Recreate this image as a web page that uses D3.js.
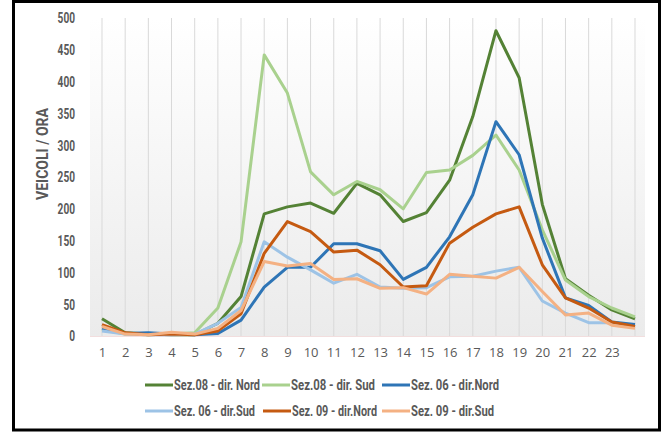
<!DOCTYPE html>
<html><head><meta charset="utf-8">
<script src="https://cdn.jsdelivr.net/npm/d3@7"></script>
<style>
body{margin:0;background:#fff;}
svg{display:block;}
</style></head>
<body>
<svg id="chart" width="662" height="432"></svg>
<script>
const categories = d3.range(1, 25);
const tickLabels = ["1","2","3","4","5","6","7","8","9","10","11","12","13","14","15","16","17","18","19","20","21","22","23",""];
const yTicks = [0,50,100,150,200,250,300,350,400,450,500];
const seriesNames = ["Sez.08 - dir. Nord","Sez.08 - dir. Sud","Sez. 06 - dir.Nord","Sez. 06 - dir.Sud","Sez. 09 - dir.Nord","Sez. 09 - dir.Sud"];
const seriesColors = ["#548235","#A9D18E","#2E75B6","#9DC3E6","#C55A11","#F4B183"];
const sez08Nord = [27,5,3,2,2,20,62,192,203,209,193,240,222,180,194,245,345,480,406,207,90,64,41,27];
const sez08Sud  = [10,3,2,3,5,44,148,442,382,258,222,243,230,200,257,261,284,316,261,167,88,62,44,30];
const sez06Nord = [12,4,5,3,2,4,25,77,108,108,145,145,134,89,108,156,222,337,285,154,60,48,22,18];
const sez06Sud  = [8,3,2,2,3,20,45,148,124,104,83,97,77,75,76,93,94,102,108,55,36,21,21,14];
const sez09Nord = [18,5,2,3,2,8,35,130,180,164,132,135,112,77,79,146,171,192,203,112,60,44,22,15];
const sez09Sud  = [15,3,2,6,3,12,40,117,110,114,89,90,75,76,66,97,94,91,108,70,33,36,17,12];
const seriesValues = [sez08Nord, sez08Sud, sez06Nord, sez06Sud, sez09Nord, sez09Sud];

const condFont = "Roboto, 'DejaVu Sans', sans-serif";
const svg = d3.select("#chart");
// outer frame
svg.append("rect").attr("x",13.5).attr("y",1.5).attr("width",646).attr("height",428.5)
  .attr("fill","#fff").attr("stroke","#000").attr("stroke-width",3);

const plot = {left:90, right:645, top:18, bottom:336};
const x = d3.scalePoint().domain(categories).range([102, 635]);
const y = d3.scaleLinear().domain([0,500]).range([plot.bottom, plot.top]);

const defs = svg.append("defs");
const grad = defs.append("linearGradient").attr("id","bg").attr("x1",0).attr("y1",0).attr("x2",0).attr("y2",1);
grad.append("stop").attr("offset","0%").attr("stop-color","#ffffff");
grad.append("stop").attr("offset","100%").attr("stop-color","#ebebeb");
svg.append("rect").attr("x",plot.left).attr("y",plot.top).attr("width",plot.right-plot.left).attr("height",plot.bottom-plot.top)
  .attr("fill","url(#bg)");

// vertical gridlines
svg.append("g").selectAll("line").data(categories).join("line")
  .attr("x1",d=>x(d)).attr("x2",d=>x(d)).attr("y1",plot.top).attr("y2",plot.bottom)
  .attr("stroke","#d9d9d9").attr("stroke-width",1);
svg.append("line").attr("x1",plot.left).attr("x2",plot.right).attr("y1",plot.bottom+0.5).attr("y2",plot.bottom+0.5)
  .attr("stroke","#f2dede").attr("stroke-width",1);

// y axis
const yAxis = svg.append("g").attr("transform",`translate(75,0)`)
  .call(d3.axisLeft(y).tickValues(yTicks).tickSize(0).tickPadding(0));
yAxis.select(".domain").remove();
yAxis.selectAll("text").attr("fill","#595959")
  .style("font-family",condFont)
  .style("font-size","15px").style("font-weight","bold")
  .attr("textLength",d=>String(d).length*5.8).attr("lengthAdjust","spacingAndGlyphs");

// x axis
const xAxis = svg.append("g").attr("transform",`translate(0,${plot.bottom})`)
  .call(d3.axisBottom(x).tickFormat((d,i)=>tickLabels[i]).tickSize(0).tickPadding(12));
xAxis.select(".domain").remove();
xAxis.selectAll("text").attr("fill","#595959")
  .style("font-family","'Open Sans',sans-serif").style("font-size","13px");

// y title
svg.append("text").attr("transform","translate(48,154) rotate(-90)")
  .attr("text-anchor","middle").attr("fill","#595959")
  .style("font-family",condFont)
  .style("font-size","16px").style("font-weight","bold")
  .attr("textLength",92).attr("lengthAdjust","spacingAndGlyphs").text("VEICOLI / ORA");

// lines
const line = d3.line().x((d,i)=>x(categories[i])).y(d=>y(d));
seriesValues.forEach((vals,k)=>{
  svg.append("path").datum(vals).attr("d",line).attr("fill","none")
    .attr("stroke",seriesColors[k]).attr("stroke-width",3).attr("stroke-linejoin","round");
});

// legend
const legendPos = [[145,385],[262,385],[382,385],[145,411],[263,411],[382,411]];
const legendTextLen = [86,84,88,81,85,83];
seriesNames.forEach((name,k)=>{
  const [lx,ly] = legendPos[k];
  svg.append("line").attr("x1",lx).attr("x2",lx+28).attr("y1",ly).attr("y2",ly)
    .attr("stroke",seriesColors[k]).attr("stroke-width",3);
  svg.append("text").attr("x",lx+29).attr("y",ly+5).attr("fill","#595959")
    .style("font-family",condFont)
    .style("font-size","14px").style("font-weight","bold")
    .attr("textLength",legendTextLen[k]).attr("lengthAdjust","spacingAndGlyphs").text(name);
});
</script>
</body></html>
